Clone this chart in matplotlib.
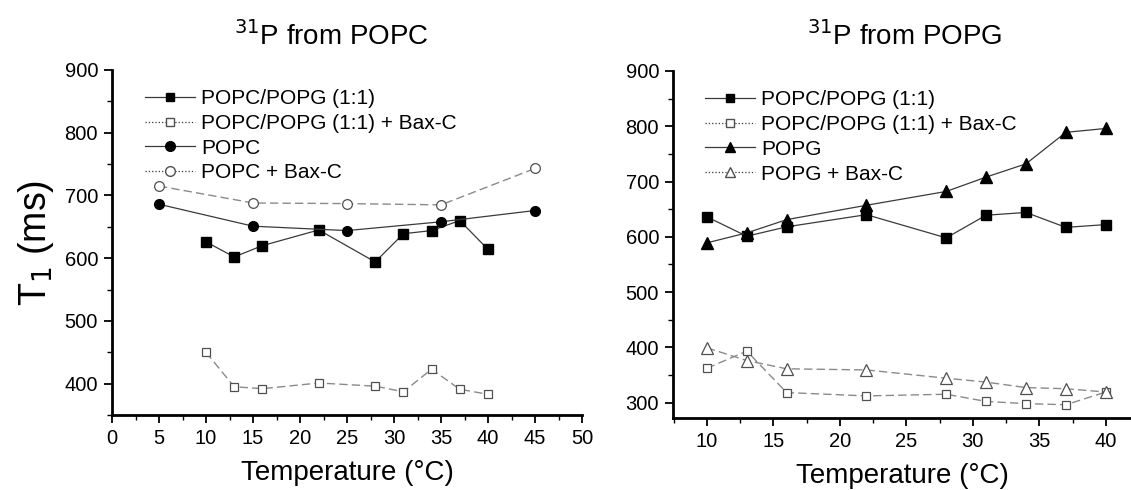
import numpy as np
import matplotlib
matplotlib.use("Agg")
import matplotlib.pyplot as plt
from matplotlib.lines import Line2D
from matplotlib.ticker import MultipleLocator

plt.rcParams['font.family'] = ['Liberation Sans', 'DejaVu Sans']

# left panel: 31P from POPC
temp_mix = [10, 13, 16, 22, 28, 31, 34, 37, 40]
popc_mix = [626, 602, 620, 645, 594, 639, 644, 660, 614]
popc_mix_bax = [450, 395, 392, 401, 396, 387, 423, 391, 383]
temp_popc = [5, 15, 25, 35, 45]
popc = [686, 651, 644, 658, 676]
popc_bax = [715, 688, 687, 685, 743]

# right panel: 31P from POPG
temp_popg = [10, 13, 16, 22, 28, 31, 34, 37, 40]
popg_mix = [636, 601, 618, 640, 598, 639, 644, 617, 622]
popg_mix_bax = [362, 393, 318, 312, 315, 302, 298, 296, 319]
popg = [589, 607, 631, 657, 682, 708, 732, 789, 796]
popg_bax = [399, 376, 361, 359, 344, 337, 327, 325, 319]

labels_left = ["POPC/POPG (1:1)", "POPC/POPG (1:1) + Bax-C", "POPC", "POPC + Bax-C"]
labels_right = ["POPC/POPG (1:1)", "POPC/POPG (1:1) + Bax-C", "POPG", "POPG + Bax-C"]

solid_c = '#3a3a3a'
dash_c = '#8a8a8a'
edge_c = '#505050'

fig = plt.figure(figsize=(11.31, 4.90), dpi=100)
ax1 = fig.add_axes([112/1131, 75/490, 470/1131, 345/490])
ax2 = fig.add_axes([673/1131, 72/490, 458/1131, 347/490])


def filled(ax, x, y, m, ms):
    ax.plot(x, y, '-', color=solid_c, lw=0.9, marker=m, ms=ms,
            mfc='black', mec='black', zorder=3)


def opened(ax, x, y, m, ms):
    ax.plot(x, y, color=dash_c, lw=1.0, ls=(0, (6, 3)), marker=m, ms=ms,
            mfc='white', mec=edge_c, mew=0.9, zorder=3)


filled(ax1, temp_mix, popc_mix, 's', 6.5)
opened(ax1, temp_mix, popc_mix_bax, 's', 6)
filled(ax1, temp_popc, popc, 'o', 7)
opened(ax1, temp_popc, popc_bax, 'o', 7)

filled(ax2, temp_popg, popg_mix, 's', 6.5)
opened(ax2, temp_popg, popg_mix_bax, 's', 6)
filled(ax2, temp_popg, popg, '^', 8)
opened(ax2, temp_popg, popg_bax, '^', 8)


def legend(ax, labels, m2):
    h = [Line2D([], [], color=solid_c, lw=0.9, marker='s', ms=6, mfc='black', mec='black'),
         Line2D([], [], color=solid_c, lw=0.9, ls=':', marker='s', ms=5.5, mfc='white', mec=edge_c),
         Line2D([], [], color=solid_c, lw=0.9, marker=m2, ms=7, mfc='black', mec='black'),
         Line2D([], [], color=solid_c, lw=0.9, ls=':', marker=m2, ms=7, mfc='white', mec=edge_c)]
    ax.legend(h, labels, loc='upper left', bbox_to_anchor=(0.07, 0.945), frameon=False,
              fontsize=15, handlelength=2.4, handletextpad=0.3, labelspacing=0.28,
              borderpad=0, borderaxespad=0)


legend(ax1, labels_left, 'o')
legend(ax2, labels_right, '^')

ax1.set_xlim(0, 50)
ax1.set_ylim(350, 900)
ax1.xaxis.set_major_locator(MultipleLocator(5))
ax1.xaxis.set_minor_locator(MultipleLocator(2.5))
ax1.set_yticks([400, 500, 600, 700, 800, 900])
ax1.yaxis.set_minor_locator(MultipleLocator(50))

ax2.set_xlim(7.45, 41.9)
ax2.set_ylim(272, 900)
ax2.set_xticks([10, 15, 20, 25, 30, 35, 40])
ax2.xaxis.set_minor_locator(MultipleLocator(2.5))
ax2.set_yticks([300, 400, 500, 600, 700, 800, 900])
ax2.yaxis.set_minor_locator(MultipleLocator(50))

for ax in (ax1, ax2):
    ax.spines['top'].set_visible(False)
    ax.spines['right'].set_visible(False)
    ax.spines['left'].set_linewidth(2)
    ax.spines['bottom'].set_linewidth(2)
    ax.tick_params(which='major', direction='out', length=6, width=1.3, labelsize=14.5, pad=4)
    ax.tick_params(which='minor', direction='out', length=3.5, width=1.0)
    ax.set_xlabel('Temperature (°C)', fontsize=20, labelpad=9)

ax1.set_ylabel('T$_1$ (ms)', fontsize=27, labelpad=6)

fig.text(331/1131, 1 - 36/490, '$^{31}$P from POPC', fontsize=20, ha='center', va='center')
fig.text(905/1131, 1 - 36/490, '$^{31}$P from POPG', fontsize=20, ha='center', va='center')

fig.savefig('out.png', dpi=100)
